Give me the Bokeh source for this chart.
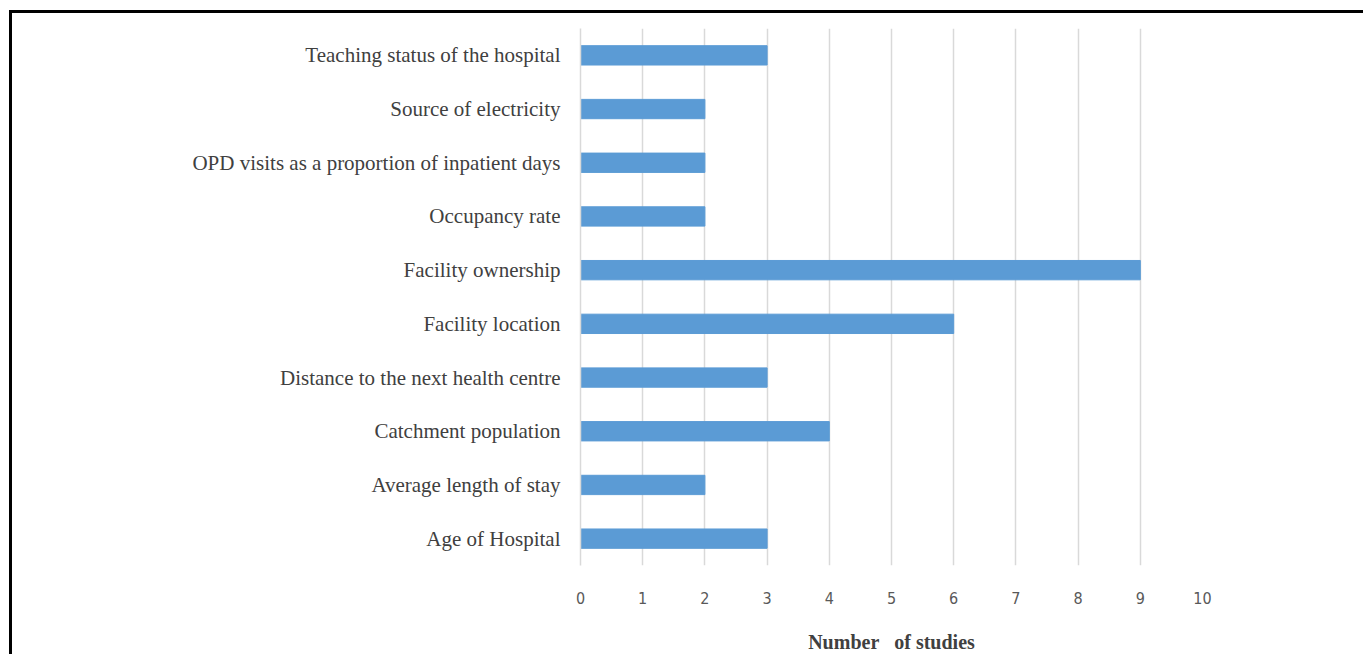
from bokeh.plotting import figure
from bokeh.models import FactorRange, FixedTicker, ColumnDataSource
from bokeh.embed import file_html
from bokeh.resources import INLINE

# Hospital-level factors and how many studies examined each (bottom to top)
factors = [
    "Age of Hospital",
    "Average length of stay",
    "Catchment population",
    "Distance to the next health centre",
    "Facility location",
    "Facility ownership",
    "Occupancy rate",
    "OPD visits as a proportion of inpatient days",
    "Source of electricity",
    "Teaching status of the hospital",
]
studies = [3, 2, 4, 3, 6, 9, 2, 2, 2, 3]
x_ticks = list(range(0, 11))

source = ColumnDataSource(data=dict(factor=factors, count=studies))

# The figure sits inside a black frame drawn on its top and left edges
p = figure(
    width=1354, height=644,
    y_range=FactorRange(*factors, range_padding=0),
    x_range=(0, 10),
    output_backend="svg", toolbar_location=None,
    min_border_left=568, min_border_right=164,
    min_border_top=15, min_border_bottom=92,
    styles={
        "margin-left": "9px", "margin-top": "10px",
        "border-left": "3px solid #000", "border-top": "3px solid #000",
    },
)
p.hbar(y="factor", right="count", left=0, height=0.36, source=source,
       fill_color="#5B9BD5", line_color="#5B9BD5")

p.outline_line_color = None
p.background_fill_color = "white"
p.border_fill_color = "white"

p.ygrid.grid_line_color = None
p.xgrid.grid_line_color = "#D9D9D9"
p.xgrid.grid_line_width = 1.5

p.xaxis.ticker = FixedTicker(ticks=x_ticks)
p.xaxis.axis_line_color = None
p.xaxis.major_tick_line_color = None
p.xaxis.minor_tick_line_color = None
p.xaxis.major_label_text_font = "DejaVu Sans Condensed"
p.xaxis.major_label_text_font_size = "16px"
p.xaxis.major_label_text_color = "#595959"
p.xaxis.major_label_standoff = 20
p.xaxis.axis_label = "Number\u00a0\u00a0\u00a0of studies"
p.xaxis.axis_label_text_font = "Liberation Serif"
p.xaxis.axis_label_text_font_style = "bold"
p.xaxis.axis_label_text_font_size = "20px"
p.xaxis.axis_label_text_color = "#404040"
p.xaxis.axis_label_standoff = 24

p.yaxis.axis_line_color = "#D9D9D9"
p.yaxis.axis_line_width = 1.5
p.yaxis.major_tick_line_color = None
p.yaxis.minor_tick_line_color = None
p.yaxis.major_label_text_font = "Liberation Serif"
p.yaxis.major_label_text_font_size = "21px"
p.yaxis.major_label_text_color = "#404040"
p.yaxis.major_label_standoff = 14

open("out.html", "w").write(file_html(p, INLINE))
